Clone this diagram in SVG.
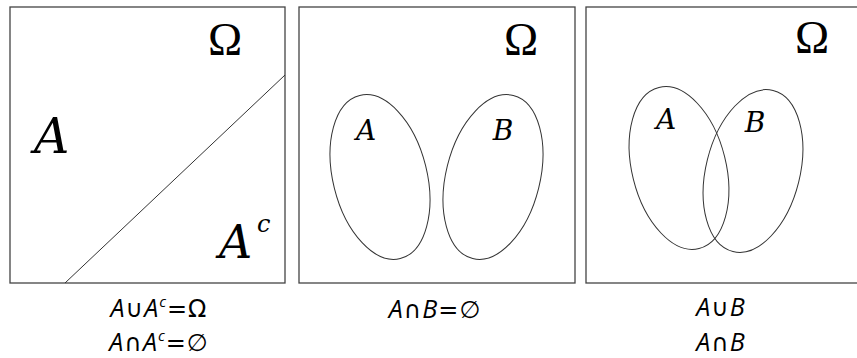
<svg xmlns="http://www.w3.org/2000/svg" width="857" height="358" viewBox="0 0 857 358">
<style>
.box{fill:#fff;stroke:#444;stroke-width:1.3}
.ln{fill:none;stroke:#333;stroke-width:1}
.om{font-family:"Liberation Serif","DejaVu Serif",serif;font-size:46px;fill:#000;text-anchor:middle}
.big{font-family:"DejaVu Serif","Liberation Serif",serif;font-style:italic;fill:#000}
.cap{font-family:"Open Sans","Noto Sans","DejaVu Sans",sans-serif;font-style:italic;font-size:25px;fill:#000;text-anchor:middle;letter-spacing:1px}
.sym{font-style:normal;font-family:"DejaVu Sans",sans-serif;font-size:24px}
</style>
<rect width="857" height="358" fill="#fff"/>
<g id="panel1">
<rect class="box" x="10" y="7" width="275" height="276"/>
<line class="ln" x1="65" y1="283" x2="285" y2="75"/>
<text class="om" x="225" y="55">Ω</text>
<text class="big" x="34" y="153" font-size="49">A</text>
<text class="big" x="219" y="258" font-size="46">A</text>
<text class="big" x="257" y="232" font-size="24">c</text>
</g>
<g id="panel2">
<rect class="box" x="299" y="7" width="276" height="276"/>
<ellipse class="ln" cx="380" cy="177" rx="47" ry="84" transform="rotate(-14 380 177)"/>
<ellipse class="ln" cx="493" cy="177" rx="47" ry="84" transform="rotate(14 493 177)"/>
<text class="om" x="521" y="55">Ω</text>
<text class="big" x="366" y="140" font-size="28" text-anchor="middle">A</text>
<text class="big" x="503" y="140" font-size="28" text-anchor="middle">B</text>
</g>
<g id="panel3">
<rect class="box" x="586" y="7" width="290" height="276"/>
<ellipse class="ln" cx="679" cy="168" rx="47" ry="83" transform="rotate(-14 679 168)"/>
<ellipse class="ln" cx="753" cy="171" rx="47" ry="83" transform="rotate(14 753 171)"/>
<text class="om" x="812" y="53">Ω</text>
<text class="big" x="666" y="129" font-size="28" text-anchor="middle">A</text>
<text class="big" x="755" y="132" font-size="28" text-anchor="middle">B</text>
</g>
<g id="captions">
<text class="cap" x="159" y="317">A<tspan class="sym">∪</tspan>A<tspan font-size="15" dy="-10">c</tspan><tspan class="sym" dy="10">=Ω</tspan></text>
<text class="cap" x="159" y="351">A<tspan class="sym">∩</tspan>A<tspan font-size="15" dy="-10">c</tspan><tspan class="sym" dy="10">=∅</tspan></text>
<text class="cap" x="435" y="318">A<tspan class="sym">∩</tspan>B<tspan class="sym">=∅</tspan></text>
<text class="cap" x="721" y="316">A<tspan class="sym">∪</tspan>B</text>
<text class="cap" x="721" y="351">A<tspan class="sym">∩</tspan>B</text>
</g>
</svg>
